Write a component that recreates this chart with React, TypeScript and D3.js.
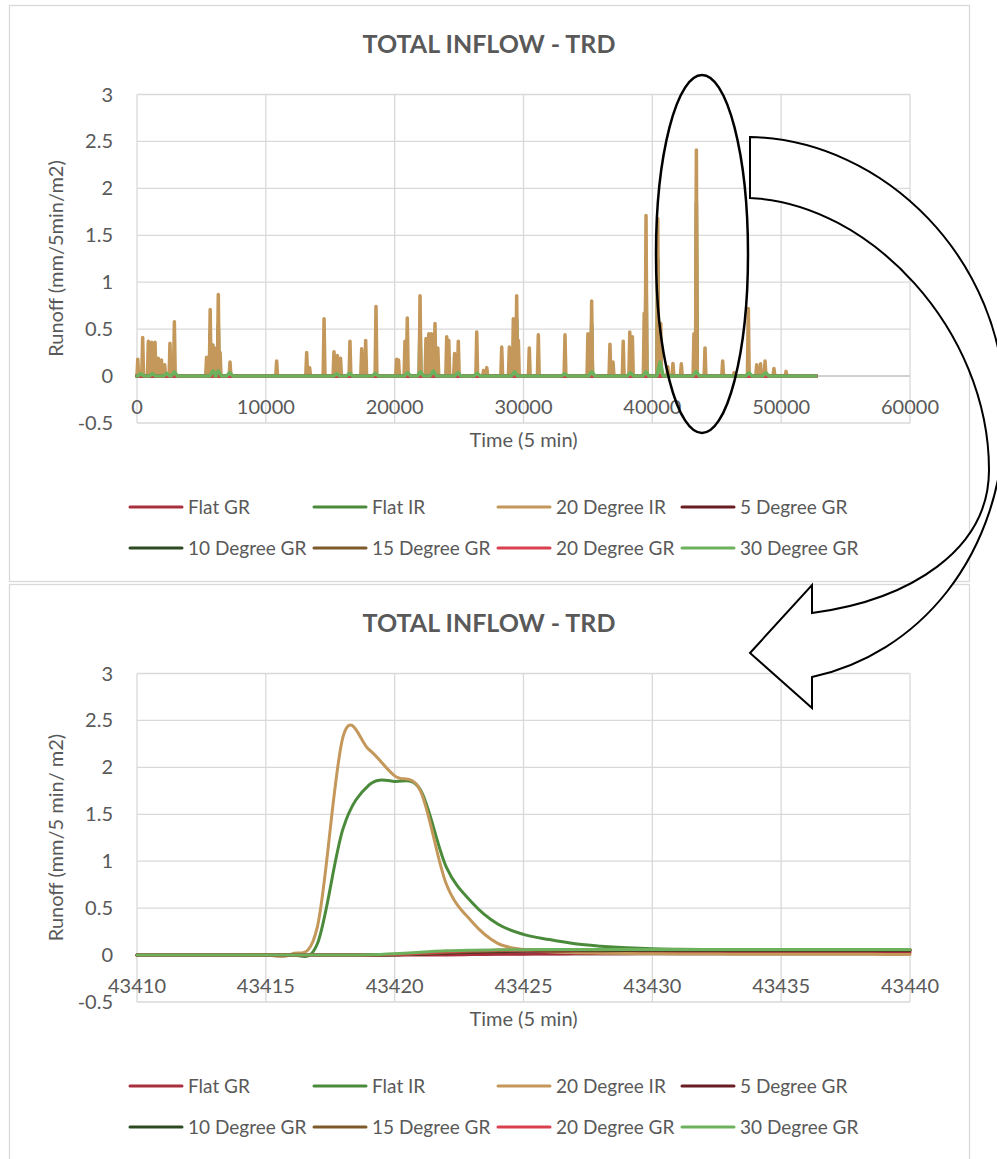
import * as d3 from "d3";
import { useEffect, useRef } from "react";

const seriesNames = [
  "Flat GR",
  "Flat IR",
  "20 Degree IR",
  "5 Degree GR",
  "10 Degree GR",
  "15 Degree GR",
  "20 Degree GR",
  "30 Degree GR",
];
const seriesColors = [
  "#A8303C",
  "#4A8A3A",
  "#C4975A",
  "#6A1C24",
  "#2E4A23",
  "#7E5A2B",
  "#D9414F",
  "#6CB15C",
];

// whole record (5 min steps)
const recordEnd = 52704;
const ir20EventTimes = [
  60, 440, 880, 1140, 1400, 1650, 1900, 2150, 2560, 2900,
  5400, 5680, 5900, 6130, 6310, 6450, 7220,
  10840, 13170, 13400, 14520, 15290, 15550, 15800, 16530, 17440, 17750, 18550,
  20150, 20300, 20800, 20980, 21970, 22430, 22650, 22850, 23130, 23350, 24040, 24200,
  24650, 24940, 26370, 26900, 27150, 28310, 28900, 29210, 29470, 29600, 30450, 31150,
  33220, 35000, 35290, 36710, 36950, 37740, 38250, 38450, 39370, 39510, 40420, 40650,
  41200, 41600, 42250, 43230, 43418, 44090, 45460, 46350, 47450, 48100, 48400, 48750,
  49440, 50380,
];
const ir20EventPeaks = [
  0.18, 0.41, 0.37, 0.36, 0.36, 0.19, 0.17, 0.12, 0.35, 0.58,
  0.2, 0.71, 0.33, 0.3, 0.87, 0.25, 0.15,
  0.16, 0.25, 0.09, 0.61, 0.26, 0.22, 0.19, 0.37, 0.29, 0.38, 0.74,
  0.18, 0.17, 0.37, 0.62, 0.855, 0.4, 0.45, 0.45, 0.56, 0.3, 0.42, 0.38,
  0.24, 0.37, 0.47, 0.06, 0.09, 0.31, 0.31, 0.61, 0.855, 0.38, 0.3, 0.44,
  0.44, 0.45, 0.8, 0.34, 0.15, 0.37, 0.47, 0.42, 0.67, 1.71, 1.68, 0.56,
  0.1, 0.135, 0.13, 0.45, 2.41, 0.3, 0.16, 0.035, 0.72, 0.12, 0.13, 0.16,
  0.08, 0.05,
];
const flatIrEventTimes = [5680, 6310, 21970, 29470, 35290, 39510, 40420, 43419];
const flatIrEventPeaks = [0.45, 0.55, 0.6, 0.6, 0.55, 1.2, 1.25, 1.85];
const gr30EventTimes = [
  300, 1200, 2300, 2900, 5900, 6300, 7200, 15500, 16500, 18500, 21000, 22000,
  23000, 24900, 26400, 29300, 33200, 35300, 38300, 39500, 40600, 43400, 47500, 48800,
];
const gr30EventPeaks = [
  0.025, 0.025, 0.03, 0.045, 0.055, 0.055, 0.035, 0.025, 0.03, 0.03, 0.035, 0.045,
  0.055, 0.035, 0.03, 0.045, 0.025, 0.045, 0.035, 0.045, 0.15, 0.05, 0.035, 0.035,
];

// zoomed event
const zoomTimes = [
  43410, 43411, 43412, 43413, 43414, 43415, 43416, 43417, 43418, 43419, 43420,
  43421, 43422, 43423, 43424, 43425, 43426, 43427, 43428, 43429, 43430, 43431,
  43432, 43433, 43434, 43435, 43436, 43437, 43438, 43439, 43440,
];
const zoomFlatGR = [
  0, 0, 0, 0, 0, 0, 0, 0, 0, 0, 0, 0, 0.002, 0.005, 0.008, 0.01, 0.012, 0.013,
  0.014, 0.015, 0.016, 0.017, 0.018, 0.019, 0.02, 0.021, 0.022, 0.023, 0.024, 0.024, 0.025,
];
const zoomFlatIR = [
  0, 0, 0, 0, 0, 0, 0, 0.12, 1.35, 1.81, 1.85, 1.76, 0.94, 0.56, 0.33, 0.22,
  0.165, 0.12, 0.095, 0.078, 0.067, 0.062, 0.059, 0.057, 0.055, 0.054, 0.053,
  0.052, 0.051, 0.05, 0.05,
];
const zoomIR20 = [
  0, 0, 0, 0, 0, 0, 0.01, 0.3, 2.33, 2.19, 1.91, 1.75, 0.76, 0.355, 0.125, 0.06,
  0.035, 0.025, 0.02, 0.016, 0.014, 0.012, 0.011, 0.01, 0.01, 0.009, 0.009,
  0.008, 0.008, 0.007, 0.007,
];
const zoom5GR = [
  0, 0, 0, 0, 0, 0, 0, 0, 0, 0, 0.003, 0.01, 0.02, 0.03, 0.036, 0.04, 0.043,
  0.045, 0.047, 0.048, 0.049, 0.05, 0.05, 0.05, 0.05, 0.05, 0.05, 0.05, 0.05, 0.05, 0.05,
];
const zoom10GR = [
  0, 0, 0, 0, 0, 0, 0, 0, 0, 0, 0.003, 0.012, 0.024, 0.034, 0.041, 0.046, 0.049,
  0.051, 0.052, 0.053, 0.054, 0.055, 0.055, 0.055, 0.055, 0.055, 0.055, 0.055, 0.055, 0.055, 0.055,
];
const zoom15GR = [
  0, 0, 0, 0, 0, 0, 0, 0, 0, 0, 0.004, 0.013, 0.027, 0.038, 0.045, 0.05, 0.052,
  0.054, 0.055, 0.056, 0.057, 0.057, 0.057, 0.057, 0.057, 0.057, 0.057, 0.057, 0.057, 0.057, 0.057,
];
const zoom20GR = [
  0, 0, 0, 0, 0, 0, 0, 0, 0, 0.002, 0.008, 0.02, 0.035, 0.045, 0.051, 0.055,
  0.057, 0.058, 0.059, 0.059, 0.059, 0.06, 0.06, 0.06, 0.06, 0.06, 0.06, 0.06, 0.06, 0.06, 0.06,
];
const zoom30GR = [
  0, 0, 0, 0, 0, 0, 0, 0, 0, 0.004, 0.015, 0.03, 0.045, 0.052, 0.056, 0.058,
  0.059, 0.06, 0.06, 0.06, 0.06, 0.06, 0.06, 0.06, 0.06, 0.06, 0.06, 0.06, 0.06, 0.06, 0.06,
];

const FONT = "Lato, 'Open Sans', sans-serif";
const TEXT = "#595959";

// event list -> line points with zero runoff between events
const eventLine = (times, peaks, halfWidth) => {
  const pts = [[0, 0]];
  times.forEach((t, i) => {
    pts.push([Math.max(0, t - halfWidth), 0], [t, peaks[i]], [t + halfWidth, 0]);
  });
  pts.push([recordEnd, 0]);
  return pts;
};

const flatLine = () => [[0, 0], [recordEnd, 0]];

const drawPanel = (svg, opts) => {
  const top = opts.top;
  const g = svg.append("g");

  g.append("rect")
    .attr("x", 9.5)
    .attr("y", top + 0.5)
    .attr("width", 960)
    .attr("height", 576)
    .attr("fill", "#fff")
    .attr("stroke", "#d9d9d9")
    .attr("stroke-width", 1.3);

  const x = d3.scaleLinear().domain(opts.xDomain).range([137, 910]);
  const y = d3.scaleLinear().domain([-0.5, 3]).range([top + 418, top + 89.5]);

  // grid
  g.append("g")
    .selectAll("line")
    .data(y.ticks(7))
    .enter()
    .append("line")
    .attr("x1", 137)
    .attr("x2", 910)
    .attr("y1", d => y(d))
    .attr("y2", d => y(d))
    .attr("stroke", "#d9d9d9")
    .attr("stroke-width", 1.3);
  g.append("g")
    .selectAll("line")
    .data(x.ticks(6))
    .enter()
    .append("line")
    .attr("x1", d => x(d))
    .attr("x2", d => x(d))
    .attr("y1", y(3))
    .attr("y2", y(-0.5))
    .attr("stroke", "#d9d9d9")
    .attr("stroke-width", 1.3);
  g.append("line")
    .attr("x1", 137)
    .attr("x2", 910)
    .attr("y1", y(0))
    .attr("y2", y(0))
    .attr("stroke", "#c8c8c8")
    .attr("stroke-width", 1.5);

  // tick labels
  g.append("g")
    .selectAll("text")
    .data(y.ticks(7))
    .enter()
    .append("text")
    .attr("x", 113)
    .attr("y", d => y(d))
    .attr("dy", "0.35em")
    .attr("text-anchor", "end")
    .attr("font-size", 20)
    .attr("fill", TEXT)
    .text(d => String(d));
  g.append("g")
    .selectAll("text")
    .data(x.ticks(6))
    .enter()
    .append("text")
    .attr("x", d => x(d))
    .attr("y", y(0) + 31)
    .attr("dy", "0.35em")
    .attr("text-anchor", "middle")
    .attr("font-size", 20)
    .attr("fill", TEXT)
    .text(d => String(d));

  // titles
  g.append("text")
    .attr("x", 489)
    .attr("y", top + 39)
    .attr("dy", "0.35em")
    .attr("text-anchor", "middle")
    .attr("font-size", 25)
    .attr("font-weight", "bold")
    .attr("fill", TEXT)
    .text("TOTAL INFLOW - TRD");
  g.append("text")
    .attr("x", 523.5)
    .attr("y", top + 435)
    .attr("dy", "0.35em")
    .attr("text-anchor", "middle")
    .attr("font-size", 20)
    .attr("fill", TEXT)
    .text("Time (5 min)");
  g.append("text")
    .attr("transform", `translate(56,${top + 253.5}) rotate(-90)`)
    .attr("dy", "0.35em")
    .attr("text-anchor", "middle")
    .attr("font-size", 20)
    .attr("fill", TEXT)
    .text(opts.yTitle);

  // series
  const line = d3.line()
    .x(d => x(d[0]))
    .y(d => y(d[1]))
    .curve(opts.curve);
  opts.series.forEach((pts, i) => {
    g.append("path")
      .datum(pts)
      .attr("d", line)
      .attr("fill", "none")
      .attr("stroke", seriesColors[i])
      .attr("stroke-width", opts.lineWidth)
      .attr("stroke-linejoin", "round")
      .attr("stroke-linecap", "round");
  });

  // legend
  const legend = g.append("g");
  seriesNames.forEach((name, i) => {
    const lx = 130 + (i % 4) * 184;
    const ly = top + (i < 4 ? 502 : 543);
    legend.append("line")
      .attr("x1", lx)
      .attr("x2", lx + 52)
      .attr("y1", ly)
      .attr("y2", ly)
      .attr("stroke", seriesColors[i])
      .attr("stroke-width", 3)
      .attr("stroke-linecap", "round");
    legend.append("text")
      .attr("x", lx + 58)
      .attr("y", ly)
      .attr("dy", "0.35em")
      .attr("font-size", 19)
      .attr("fill", TEXT)
      .text(name);
  });
};

const App = () => {
  const ref = useRef(null);

  useEffect(() => {
    const svg = d3.select(ref.current);
    svg.selectAll("*").remove();

    drawPanel(svg, {
      top: 5,
      xDomain: [0, 60000],
      yTitle: "Runoff (mm/5min/m2)",
      curve: d3.curveLinear,
      lineWidth: 3.5,
      series: [
        flatLine(),
        eventLine(flatIrEventTimes, flatIrEventPeaks, 70),
        eventLine(ir20EventTimes, ir20EventPeaks, 70),
        flatLine(),
        flatLine(),
        flatLine(),
        flatLine(),
        eventLine(gr30EventTimes, gr30EventPeaks, 250),
      ],
    });

    const zipped = vals => zoomTimes.map((t, i) => [t, vals[i]]);
    drawPanel(svg, {
      top: 584,
      xDomain: [43410, 43440],
      yTitle: "Runoff (mm/5 min/ m2)",
      curve: d3.curveCardinal.tension(0),
      lineWidth: 3,
      series: [
        zipped(zoomFlatGR),
        zipped(zoomFlatIR),
        zipped(zoomIR20),
        zipped(zoom5GR),
        zipped(zoom10GR),
        zipped(zoom15GR),
        zipped(zoom20GR),
        zipped(zoom30GR),
      ],
    });

    // call-out: ellipse round the largest event and curved arrow to the zoom
    svg.append("ellipse")
      .attr("cx", 702)
      .attr("cy", 254)
      .attr("rx", 46)
      .attr("ry", 179)
      .attr("fill", "none")
      .attr("stroke", "#000")
      .attr("stroke-width", 2.5);

    svg.append("path")
      .attr(
        "d",
        "M750,137 C885,140 1005,260 1005,410 C1005,560 915,655 812,677 " +
          "L812,708 L750,653 L812,585 L812,613 " +
          "C910,600 989,550 989,470 C989,330 870,203 750,198 Z"
      )
      .attr("fill", "#fff")
      .attr("stroke", "#000")
      .attr("stroke-width", 2)
      .attr("stroke-linejoin", "miter");
  }, []);

  return (
    <svg
      ref={ref}
      width={997}
      height={1159}
      style={{ position: "absolute", left: 0, top: 0, fontFamily: FONT, background: "#fff" }}
    ></svg>
  );
};

export default App;
